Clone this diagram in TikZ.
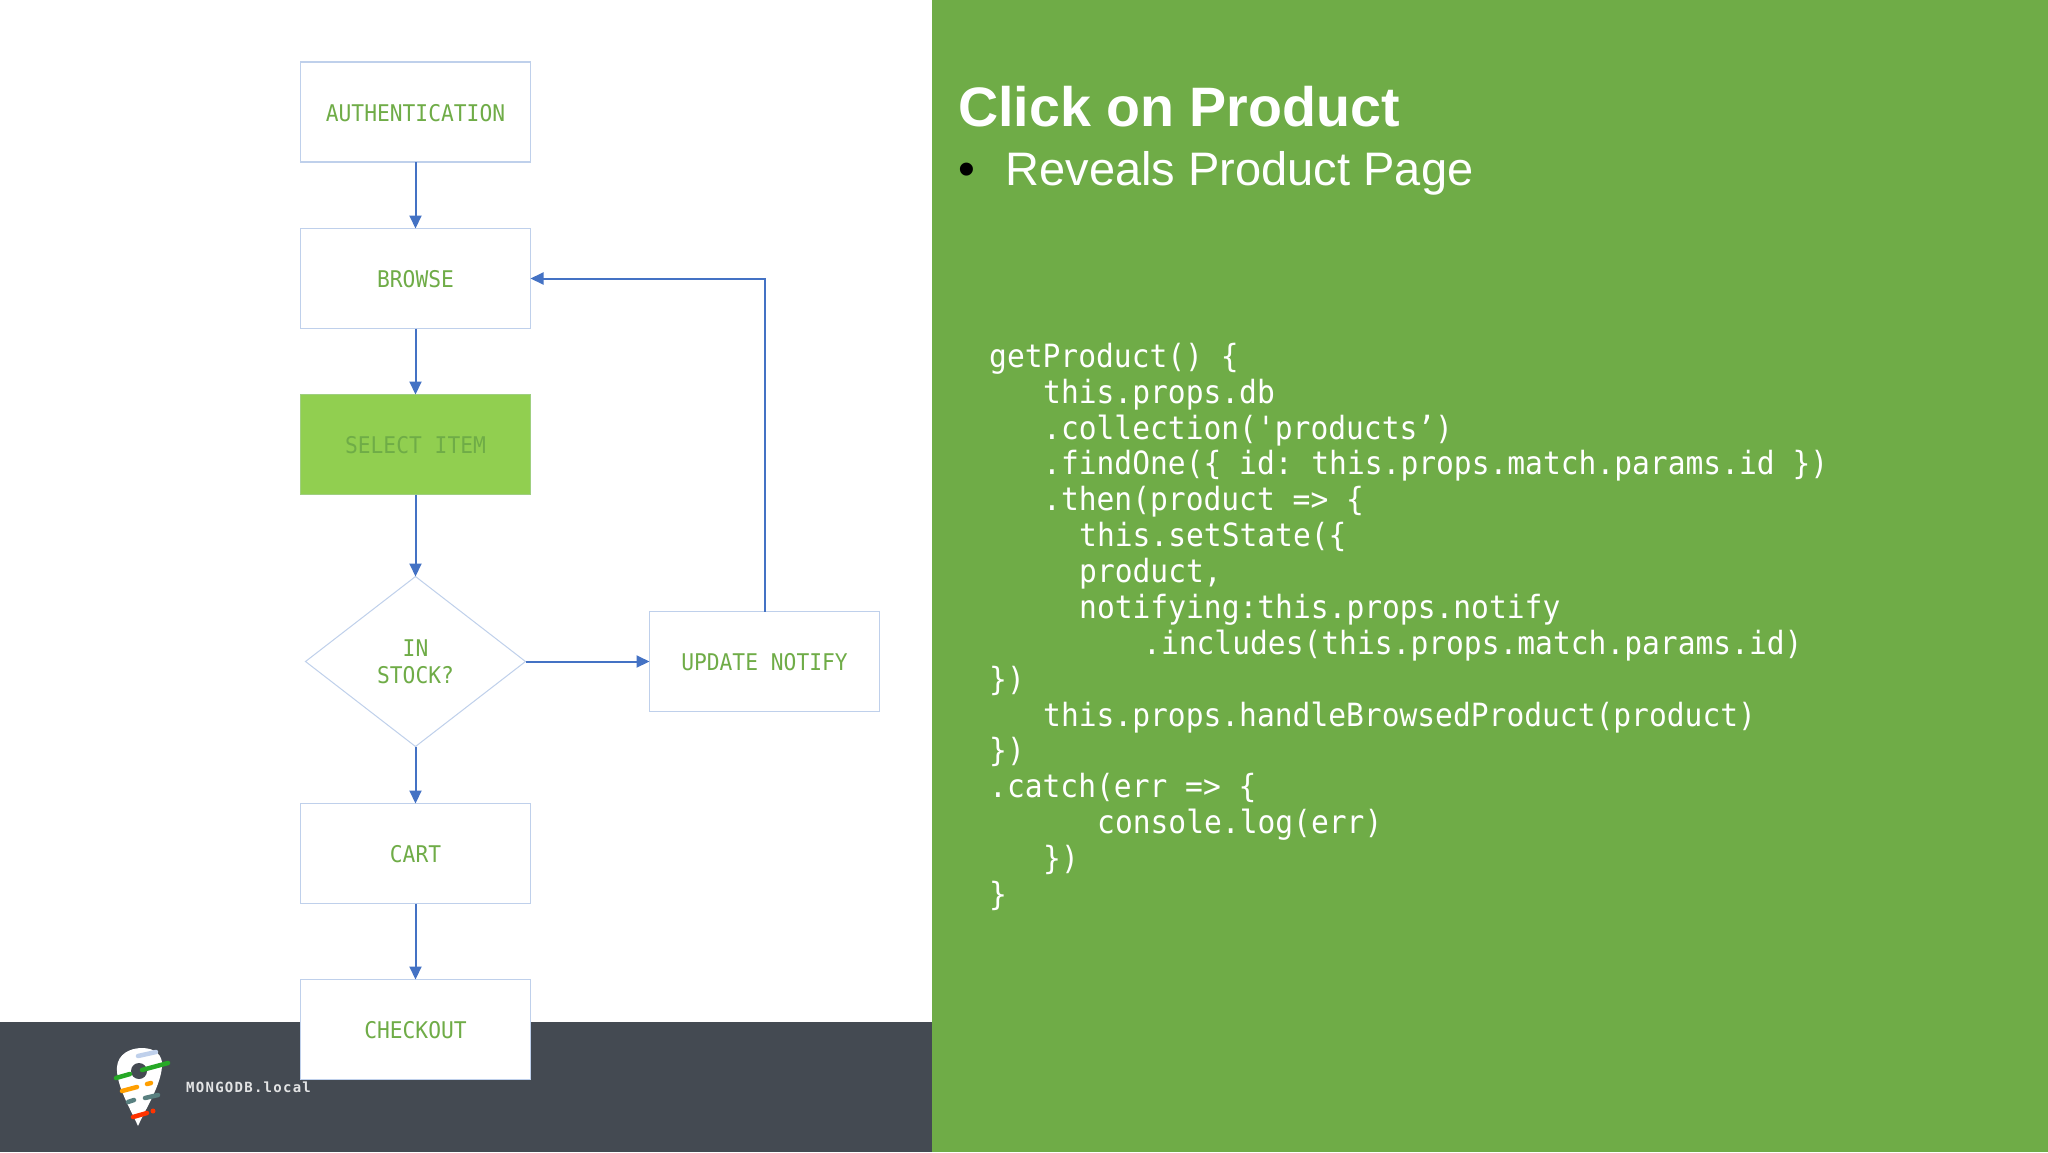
\documentclass[tikz,border=0pt]{standalone}
\usepackage{fontspec}
\setmainfont{Liberation Sans}
\newfontfamily\codefont[FakeStretch=0.925]{DejaVu Sans Mono}
\newfontfamily\logofont[LetterSpace=9]{DejaVu Sans Mono}
\usetikzlibrary{shapes.geometric,arrows.meta}
\definecolor{slidegreen}{HTML}{6FAC47}
\definecolor{leafgreen}{HTML}{91CF50}
\definecolor{flowblue}{HTML}{4472C4}
\definecolor{paleblue}{HTML}{BFD0EB}
\definecolor{darkband}{HTML}{444A52}

\begin{document}
\begin{tikzpicture}
[
x=1pt,y=-1pt,
flowbox/.style={draw=paleblue,line width=1.1pt,fill=white,minimum width=230pt,minimum height=100pt,inner sep=0pt,outer sep=0pt,text=slidegreen,font=\codefont\fontsize{23}{27}\selectfont,align=center,text height=18.5pt,text depth=0pt},
flowdecide/.style={flowbox,diamond,line width=1pt,minimum width=220pt,minimum height=170pt,shape aspect=1.294,text height=,text depth=},
flowline/.style={draw=flowblue,line width=2pt,-{Triangle[width=12pt,length=13pt]}},
codeline/.style={anchor=base west,inner sep=0pt,text=white,font=\codefont\fontsize{32}{36}\selectfont},
strip/.style={line width=4.5pt,line cap=round},
]
\useasboundingbox (0,0) rectangle (2048,1152);
\fill[white] (0,0) rectangle (2048,1152);
\fill[darkband] (0,1022) rectangle (932,1152);
\fill[slidegreen] (932,0) rectangle (2048,1152);

% flow chart
\node[flowbox] (auth) at (415.5,112) {AUTHENTICATION};
\node[flowbox] (browse) at (415.5,278.5) {BROWSE};
\node[flowbox,fill=leafgreen,draw=leafgreen!70!paleblue] (select) at (415.5,444.5) {SELECT ITEM};
\node[flowdecide] (stock) at (415.5,661.5) {IN\\STOCK?};
\node[flowbox] (update) at (764.5,661.5) {UPDATE NOTIFY};
\node[flowbox] (cart) at (415.5,853.5) {CART};
\node[flowbox] (checkout) at (415.5,1029.5) {CHECKOUT};

\draw[flowline] (auth) -- (browse);
\draw[flowline] (browse) -- (select);
\draw[flowline] (select) -- (stock);
\draw[flowline] (stock) -- (update);
\draw[flowline] (stock) -- (cart);
\draw[flowline] (cart) -- (checkout);
\draw[flowline] (update) |- (browse);

% logo
\fill[white] (138,1126) .. controls (130,1108) and (116,1085) .. (117,1067) .. controls (118,1054) and (130,1048) .. (142,1048) .. controls (155,1048) and (163,1055) .. (162,1066) .. controls (161,1085) and (146,1108) .. (138,1126) -- cycle;
\fill[darkband] (139,1071) circle (8pt);
\draw[strip,green!60!black!85!white] (116,1078) -- (130,1074);
\draw[strip,green!60!black!85!white] (142,1070) -- (168,1063);
\draw[strip,paleblue] (138,1056) -- (156,1052);
\draw[strip,orange!75!yellow] (122,1091) -- (137,1087);
\draw[strip,orange!75!yellow] (147,1084) -- (151,1083);
\draw[strip,gray!70!teal] (128,1102) -- (134,1100);
\draw[strip,gray!70!teal] (145,1098) -- (158,1095);
\draw[strip,red!60!orange] (133,1117) -- (147,1113);
\fill[red!60!orange] (153,1111) circle (2.5pt);
\node[anchor=base west,inner sep=0pt,text=white!85!darkband,font=\logofont\bfseries\fontsize{14}{16}\selectfont] (logotext) at (186,1092) {MONGODB.local};

% slide text
\node[anchor=base west,inner sep=0pt,text=white,font=\bfseries\fontsize{55.6}{60}\selectfont] (title) at (958,126) {Click on Product};
\node[anchor=base west,inner sep=0pt,text=black,font=\fontsize{48}{54}\selectfont] (bullet) at (958,185) {•};
\node[anchor=base west,inner sep=0pt,text=white,font=\fontsize{47}{54}\selectfont] (reveals) at (1005.5,185) {Reveals Product Page};

% code
\node[codeline] (c1) at (989,367.5) {getProduct() \{};
\node[codeline] (c2) at (1043,403.4) {this.props.db};
\node[codeline] (c3) at (1043,439.2) {.collection('products’)};
\node[codeline] (c4) at (1043,474.6) {.findOne(\{ id:\kern-5pt{} this.props.match.params.id \})};
\node[codeline] (c5) at (1043,510.9) {.then(product => \{};
\node[codeline] (c6) at (1079,546.8) {this.setState(\{};
\node[codeline] (c7) at (1079,582.6) {product,};
\node[codeline] (c8) at (1079,618.5) {notifying:this.props.notify};
\node[codeline] (c9) at (1143,654.3) {.includes(this.props.match.params.id)};
\node[codeline] (c10) at (989,690.2) {\})};
\node[codeline] (c11) at (1043,726) {this.props.handleBrowsedProduct(product)};
\node[codeline] (c12) at (989,761.9) {\})};
\node[codeline] (c13) at (989,797.7) {.catch(err => \{};
\node[codeline] (c14) at (1097,833.6) {console.log(err)};
\node[codeline] (c15) at (1043,869.4) {\})};
\node[codeline] (c16) at (989,905.3) {\}};
\end{tikzpicture}
\end{document}
